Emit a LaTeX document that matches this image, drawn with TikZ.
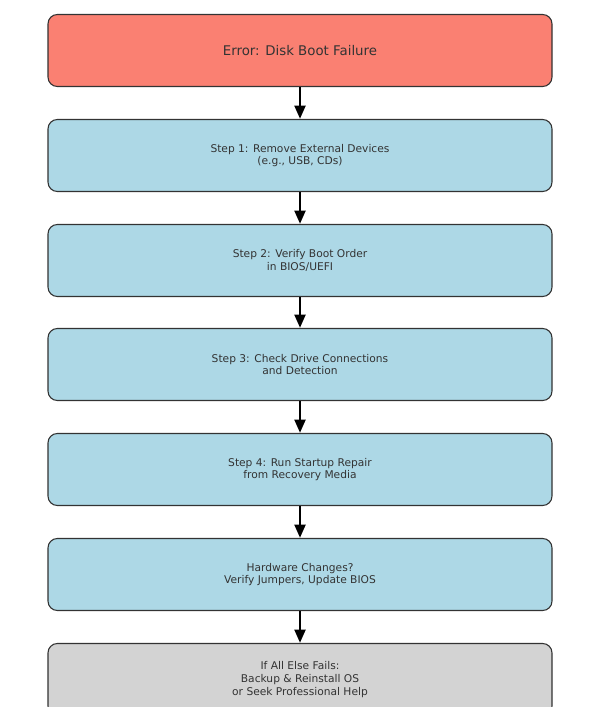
\documentclass[tikz,border=0pt]{standalone}
\usepackage{fontspec}
\setmainfont{DejaVu Sans}
\usetikzlibrary{arrows.meta}
\definecolor{errred}{HTML}{FA8072}
\definecolor{stepblue}{HTML}{ADD8E6}
\definecolor{failgray}{HTML}{D3D3D3}
\definecolor{txt}{HTML}{333333}
\tikzset{
  box/.style={draw=black!80, line width=0.8pt, rounded corners=7pt, minimum width=378pt, minimum height=54pt, align=center, text=txt, font=\fontsize{8}{9.5}\selectfont, inner sep=0pt},
  conn/.style={-{Triangle[length=10pt,width=8pt]}, line width=2.2pt, black}
}
\begin{document}
\begin{tikzpicture}[x=0.75pt,y=-0.75pt]
\useasboundingbox (0,0) rectangle (600,713);
\clip (0,0) rectangle (600,706);
\node[box, fill=errred, font=\fontsize{10}{12}\selectfont] (e) at (300,50.5) {Error: Disk Boot Failure};
\node[box, fill=stepblue] (s1) at (300,155.5) {Step 1: Remove External Devices\\(e.g., USB, CDs)};
\node[box, fill=stepblue] (s2) at (300,260.5) {Step 2: Verify Boot Order\\in BIOS/UEFI};
\node[box, fill=stepblue] (s3) at (300,364.5) {Step 3: Check Drive Connections\\and Detection};
\node[box, fill=stepblue] (s4) at (300,469.5) {Step 4: Run Startup Repair\\from Recovery Media};
\node[box, fill=stepblue] (s5) at (300,574.5) {Hardware Changes?\\Verify Jumpers, Update BIOS};
\node[box, fill=failgray] (s6) at (300,679.5) {If All Else Fails:\\Backup \& Reinstall OS\\or Seek Professional Help};
\draw[conn] (e) -- (s1);
\draw[conn] (s1) -- (s2);
\draw[conn] (s2) -- (s3);
\draw[conn] (s3) -- (s4);
\draw[conn] (s4) -- (s5);
\draw[conn] (s5) -- (s6);
\end{tikzpicture}
\end{document}
